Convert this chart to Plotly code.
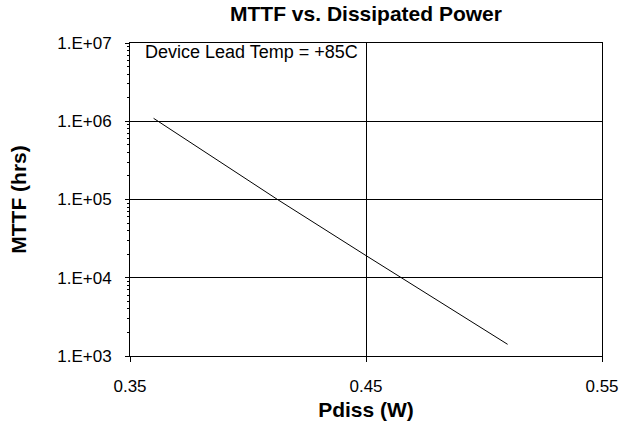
import plotly.graph_objects as go

# Data
pdiss_w = [0.36, 0.4125, 0.45, 0.465, 0.51]
mttf_hrs = [1.09e6, 1.0e5, 1.92e4, 1.0e4, 1.41e3]

x_tick_vals = [0.35, 0.45, 0.55]
x_tick_text = ["0.35", "0.45", "0.55"]
y_tick_vals = [1e3, 1e4, 1e5, 1e6, 1e7]
y_tick_text = ["1.E+03", "1.E+04", "1.E+05", "1.E+06", "1.E+07"]

FONT = "Liberation Sans, Arial, sans-serif"
W, H = 635, 426

fig = go.Figure()
fig.add_trace(go.Scatter(
    x=pdiss_w, y=mttf_hrs, mode="lines",
    line=dict(color="black", width=1),
    showlegend=False, hoverinfo="skip",
))

fig.update_layout(
    width=W, height=H,
    margin=dict(l=130, r=33, t=43, b=70),
    paper_bgcolor="white", plot_bgcolor="white",
    font=dict(family=FONT, color="black", size=17),
    hovermode=False,
    title=dict(
        text="<b>MTTF vs. Dissipated Power</b>",
        font=dict(family=FONT, size=21, color="black"),
        x=0.5, xanchor="center", xref="paper",
        y=1 - 14 / H, yanchor="middle", yref="container",
    ),
    annotations=[dict(
        text="Device Lead Temp = +85C",
        xref="paper", yref="paper", x=0.027, y=1.01,
        xanchor="left", yanchor="top", showarrow=False,
        font=dict(family=FONT, size=18, color="black"),
    )],
)

fig.update_xaxes(
    range=[0.35, 0.55], automargin=False,
    tickvals=x_tick_vals, ticktext=x_tick_text,
    ticks="outside", ticklen=5, tickcolor="black", tickwidth=1,
    ticklabelstandoff=10,
    showline=True, linecolor="black", linewidth=1, mirror=True,
    showgrid=True, gridcolor="black", gridwidth=1,
    zeroline=False,
    tickfont=dict(family=FONT, size=17),
    title=dict(text="<b>Pdiss (W)</b>", font=dict(family=FONT, size=21), standoff=6),
)
fig.update_yaxes(
    type="log", range=[3, 7], automargin=False,
    tickvals=y_tick_vals, ticktext=y_tick_text,
    ticks="outside", ticklen=4, tickcolor="black", tickwidth=1,
    ticklabelstandoff=10,
    minor=dict(ticks="outside", ticklen=2, tickcolor="black", dtick="D1", showgrid=False),
    showline=True, linecolor="black", linewidth=1, mirror=True,
    showgrid=True, gridcolor="black", gridwidth=1,
    zeroline=False,
    tickfont=dict(family=FONT, size=17),
    title=dict(text="<b>MTTF (hrs)</b>", font=dict(family=FONT, size=21), standoff=24),
)

# remove the browser's default 8px body margin so the figure sits at the page corner
fig.write_html(
    "out.html",
    config={"displayModeBar": False, "staticPlot": True},
    post_script="document.body.style.margin='0';",
)
